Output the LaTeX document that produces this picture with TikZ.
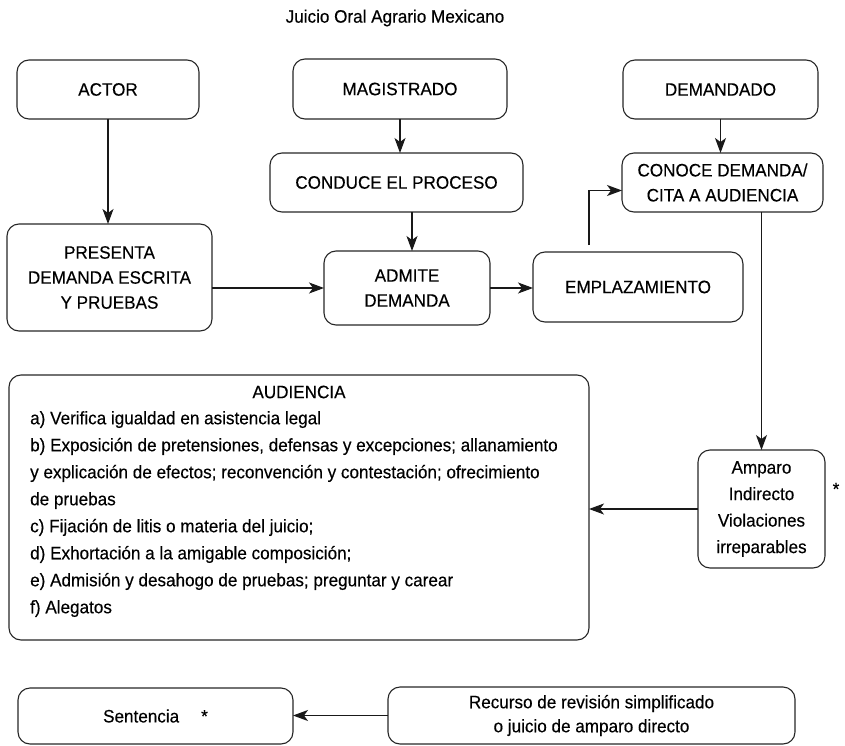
\documentclass[tikz,border=0pt]{standalone}
\usepackage{fontspec}
\setmainfont[FakeStretch=0.95,FakeBold=0.3]{Liberation Sans}
\usetikzlibrary{arrows.meta,calc}
\begin{document}
\begin{tikzpicture}[x=1pt,y=-1pt,
  box/.style={draw=black!85, line width=1.1pt, rounded corners=12pt, inner sep=0pt, outer sep=0pt,
    align=center, font=\fontsize{18}{25}\selectfont, anchor=north west},
  arr/.style={draw=black!90, line width=1.2pt, -{Stealth[length=15pt,width=11pt,inset=4pt]}},
  txt/.style={inner sep=0pt, font=\fontsize{18}{27}\selectfont}
  ]
\useasboundingbox (0,0) rectangle (845,746);
\node[txt] (title) at (395,18) {Juicio Oral Agrario Mexicano};

\node[box, minimum width=182, minimum height=59] (actor) at (17,60) {ACTOR};
\node[box, minimum width=214, minimum height=60] (magis) at (293,59) {MAGISTRADO};
\node[box, minimum width=195, minimum height=59] (demandado) at (623,60) {DEMANDADO};
\node[box, minimum width=253, minimum height=59] (conduce) at (270,153) {CONDUCE EL PROCESO};
\node[box, minimum width=201, minimum height=59] (conoce) at (622,153) {CONOCE DEMANDA/\\CITA A AUDIENCIA};
\node[box, minimum width=205, minimum height=107] (presenta) at (7,224) {PRESENTA\\DEMANDA ESCRITA\\Y PRUEBAS};
\node[box, minimum width=166, minimum height=74] (admite) at (324,251) {ADMITE\\DEMANDA};
\node[box, minimum width=210, minimum height=70] (emplaz) at (533,252) {EMPLAZAMIENTO};
\node[box, minimum width=580, minimum height=265] (aud) at (9,375) {};
\node[box, minimum width=127, minimum height=118, font=\fontsize{18}{26.5}\selectfont] (amparo) at (698,450) {Amparo\\Indirecto\\Violaciones\\irreparables};
\node[txt] (ast) at (836,489) {*};
\node[box, minimum width=275, minimum height=56] (sentencia) at (18,688) {Sentencia\hspace{22pt}*};
\node[box, minimum width=407, minimum height=57, font=\fontsize{18}{24}\selectfont] (recurso) at (388,687) {Recurso de revisión simplificado\\o juicio de amparo directo};

\node[txt] (audtitle) at (299,392) {AUDIENCIA};
\node[txt, anchor=north west, align=left] (audlist) at (30,411) {a) Verifica igualdad en asistencia legal\\
b) Exposición de pretensiones, defensas y excepciones; allanamiento\\
y explicación de efectos; reconvención y contestación; ofrecimiento\\
de pruebas\\
c) Fijación de litis o materia del juicio;\\
d) Exhortación a la amigable composición;\\
e) Admisión y desahogo de pruebas; preguntar y carear\\
f) Alegatos};

\draw[arr] (actor.south) -- (actor.south |- presenta.north);
\draw[arr] (magis.south) -- (magis.south |- conduce.north);
\draw[arr] (conduce.south -| 412,0) -- (admite.north -| 412,0);
\draw[arr] (demandado.south) -- (demandado.south |- conoce.north);
\draw[arr] (presenta.east |- admite.west) -- (admite.west);
\draw[arr] (admite.east) -- (admite.east -| emplaz.west);
\draw[arr] ([yshift=7pt]emplaz.north -| 589,0) |- ([yshift=-8pt]conoce.west);
\draw[arr] (amparo.north |- conoce.south) -- (amparo.north);
\draw[arr] (amparo.west) -- (amparo.west -| aud.east);
\draw[arr] (recurso.west) -- (recurso.west -| sentencia.east);
\end{tikzpicture}
\end{document}
